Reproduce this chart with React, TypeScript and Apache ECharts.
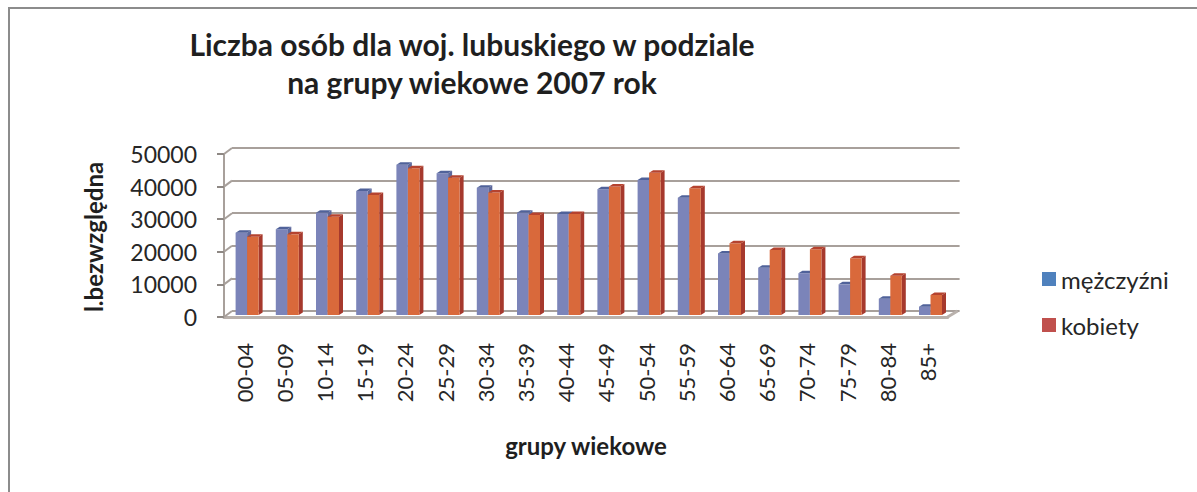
import React, { useEffect, useRef } from "react";
import * as echarts from "echarts";

const categories = ["00-04","05-09","10-14","15-19","20-24","25-29","30-34","35-39","40-44","45-49","50-54","55-59","60-64","65-69","70-74","75-79","80-84","85+"];
const men = [25200,26300,31400,38000,46100,43500,39000,31400,31000,38600,41400,36000,18900,14500,12800,9400,5000,2550];
const women = [24000,24750,30150,36800,45000,42100,37600,30700,31000,39400,43650,38850,22000,19950,20150,17400,12050,6150];
const yTicks = [0,10000,20000,30000,40000,50000];
const seriesNames = ["mężczyźni","kobiety"];
const titleText = "Liczba osób dla woj. lubuskiego w podziale\nna grupy wiekowe 2007 rok";
const yTitle = "l.bezwzględna";
const xTitle = "grupy wiekowe";

const FONT = "Lato, 'Open Sans', sans-serif";

export default function App() {
  const ref = useRef<HTMLDivElement>(null);
  useEffect(() => {
    if (!ref.current) return;
    const chart = echarts.init(ref.current, undefined, { renderer: "svg" });
    const catW = 40.2;
    const gridW = catW * categories.length;
    const gridColor = "#a8a09b";

    const barItem = (offset: number, front: string, topC: string, side: string) =>
      (params: any, api: any) => {
        const idx = api.value(0);
        const v = api.value(1);
        const t = api.coord([idx, v]);
        const b = api.coord([idx, 0]);
        const w = 11.5, dx = 4, dy = -2.5;
        const x0 = t[0] + offset;
        return {
          type: "group",
          children: [
            { type: "polygon", shape: { points: [[x0 + w, t[1]], [x0 + w + dx, t[1] + dy], [x0 + w + dx, b[1] + dy], [x0 + w, b[1]]] }, style: { fill: side } },
            { type: "rect", shape: { x: x0, y: t[1], width: w, height: b[1] - t[1] }, style: { fill: front } },
            { type: "polygon", shape: { points: [[x0, t[1]], [x0 + dx, t[1] + dy], [x0 + w + dx, t[1] + dy], [x0 + w, t[1]]] }, style: { fill: topC } },
          ],
        };
      };

    chart.setOption({
      animation: false,
      backgroundColor: "#ffffff",
      textStyle: { fontFamily: FONT },
      grid: [
        { left: 224, top: 154, width: gridW, height: 163 },
        { left: 224, top: 152, width: gridW, height: 163 },
        { left: 232, top: 148, width: gridW + 4, height: 163 },
      ],
      xAxis: [
        {
          gridIndex: 0, type: "category", data: categories,
          axisLine: { lineStyle: { color: "#b9b1ac", width: 3 } },
          axisTick: { show: false },
          axisLabel: { rotate: 90, fontSize: 22, color: "#262626", margin: 26, fontFamily: FONT, interval: 0 },
        },
        { gridIndex: 1, type: "category", data: categories, show: false },
        { gridIndex: 2, type: "category", data: categories, show: false },
      ],
      yAxis: [
        {
          gridIndex: 0, type: "value", min: 0, max: 50000, interval: 10000,
          axisLine: { show: true, lineStyle: { color: gridColor, width: 2 } },
          axisTick: { show: true, length: 7, lineStyle: { color: "#8e8884", width: 2 } },
          axisLabel: { fontSize: 23, color: "#262626", margin: 27, fontFamily: FONT, formatter: (v: number) => String(v) },
          splitLine: { show: false },
        },
        { gridIndex: 1, type: "value", min: 0, max: 50000, interval: 10000, show: false, splitLine: { show: false } },
        {
          gridIndex: 2, type: "value", min: 0, max: 50000, interval: 10000,
          axisLine: { show: false }, axisTick: { show: false }, axisLabel: { show: false },
          splitLine: { show: true, lineStyle: { color: gridColor, width: 2 } },
        },
      ],
      legend: {
        orient: "vertical", left: 1042, top: 267, padding: 0, itemGap: 22, itemWidth: 14, itemHeight: 14, icon: "rect",
        textStyle: { fontSize: 24, color: "#262626", fontFamily: FONT },
        data: seriesNames,
      },
      series: [
        {
          type: "custom", name: "walls", xAxisIndex: 0, yAxisIndex: 0, silent: true,
          data: yTicks.map((v) => [0, v]),
          renderItem: (params: any, api: any) => {
            const p = api.coord([0, api.value(1)]);
            const x = p[0] - catW / 2;
            return { type: "line", shape: { x1: x, y1: p[1], x2: x + 8, y2: p[1] - 6 }, style: { stroke: gridColor, lineWidth: 2 } };
          },
        },
        {
          type: "custom", name: "floorEnd", xAxisIndex: 0, yAxisIndex: 0, silent: true,
          data: [[categories.length - 1, 0]],
          renderItem: (params: any, api: any) => {
            const p = api.coord([api.value(0), 0]);
            const x = p[0] + catW / 2;
            return { type: "line", shape: { x1: x, y1: p[1], x2: x + 10, y2: p[1] - 6 }, style: { stroke: "#b9b1ac", lineWidth: 3 } };
          },
        },
        {
          type: "custom", name: seriesNames[0], xAxisIndex: 1, yAxisIndex: 1,
          itemStyle: { color: "#4f81bd" },
          data: men.map((v, i) => [i, v]),
          encode: { x: 0, y: 1 },
          renderItem: barItem(-8.5, "#7b84b9", "#50629a", "#5d689c"),
        },
        {
          type: "custom", name: seriesNames[1], xAxisIndex: 1, yAxisIndex: 1,
          itemStyle: { color: "#c0504d" },
          data: women.map((v, i) => [i, v]),
          encode: { x: 0, y: 1 },
          renderItem: barItem(3, "#d9693b", "#b5432f", "#a6392d"),
        },
      ],
      graphic: [
        { type: "rect", shape: { x: 9, y: 8, width: 1200, height: 500 }, style: { fill: "none", stroke: "#8c8c8c", lineWidth: 2 }, silent: true, z: 100 },
        { type: "text", x: 472, y: 25, style: { text: titleText, font: `bold 30px ${FONT}`, fill: "#1f1f1f", align: "center", verticalAlign: "top", lineHeight: 38 } },
        { type: "text", x: 93, y: 237, rotation: Math.PI / 2, style: { text: yTitle, font: `bold 24px ${FONT}`, fill: "#1f1f1f", align: "center", verticalAlign: "middle" } },
        { type: "text", x: 586, y: 445, style: { text: xTitle, font: `bold 24px ${FONT}`, fill: "#1f1f1f", align: "center", verticalAlign: "middle" } },
      ],
    });
    return () => chart.dispose();
  }, []);
  return <div ref={ref} style={{ position: "fixed", left: 0, top: 0, width: 1197, height: 492 }} />;
}
